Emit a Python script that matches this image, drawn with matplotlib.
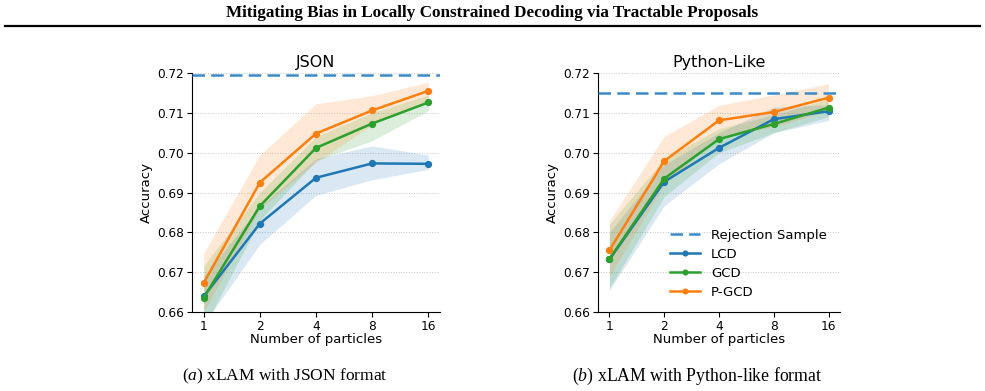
import matplotlib
matplotlib.use("Agg")
import matplotlib.pyplot as plt
from matplotlib.lines import Line2D

plt.rcParams['font.family'] = ['DejaVu Sans']
plt.rcParams['mathtext.fontset'] = 'custom'
plt.rcParams['mathtext.rm'] = 'Liberation Serif'
plt.rcParams['mathtext.it'] = 'Liberation Serif:italic'

particles = [1, 2, 4, 8, 16]
methods = ["LCD", "GCD", "P-GCD"]
colors = {"LCD": "#1f77b4", "GCD": "#2ca02c", "P-GCD": "#ff7f0e"}

# JSON panel
json_mean = {
    "LCD":   [0.6639, 0.6822, 0.6937, 0.6973, 0.6972],
    "GCD":   [0.6636, 0.6866, 0.7012, 0.7073, 0.7126],
    "P-GCD": [0.6673, 0.6925, 0.7048, 0.7106, 0.7155],
}
json_low = {
    "LCD":   [0.6570, 0.6770, 0.6893, 0.6932, 0.6958],
    "GCD":   [0.6560, 0.6830, 0.6980, 0.7030, 0.7105],
    "P-GCD": [0.6600, 0.6860, 0.6975, 0.7070, 0.7130],
}
json_high = {
    "LCD":   [0.6690, 0.6865, 0.6985, 0.7017, 0.6994],
    "GCD":   [0.6716, 0.6900, 0.7040, 0.7100, 0.7145],
    "P-GCD": [0.6748, 0.6994, 0.7123, 0.7143, 0.7177],
}
json_reject = 0.7195

# Python-like panel
py_mean = {
    "LCD":   [0.6732, 0.6927, 0.7012, 0.7084, 0.7104],
    "GCD":   [0.6733, 0.6935, 0.7034, 0.7072, 0.7113],
    "P-GCD": [0.6755, 0.6979, 0.7081, 0.7102, 0.7138],
}
py_low = {
    "LCD":   [0.6655, 0.6867, 0.6972, 0.7050, 0.7081],
    "GCD":   [0.6660, 0.6890, 0.7000, 0.7050, 0.7090],
    "P-GCD": [0.6690, 0.6920, 0.7040, 0.7065, 0.7105],
}
py_high = {
    "LCD":   [0.6800, 0.6970, 0.7050, 0.7115, 0.7120],
    "GCD":   [0.6820, 0.6985, 0.7060, 0.7095, 0.7135],
    "P-GCD": [0.6829, 0.7041, 0.7119, 0.7145, 0.7173],
}
py_reject = 0.7149

yticks = [0.66, 0.67, 0.68, 0.69, 0.70, 0.71, 0.72]
ytick_labels = ["0.66", "0.67", "0.68", "0.69", "0.70", "0.71", "0.72"]

W, H = 985, 391
fig = plt.figure(figsize=(W / 100, H / 100), dpi=100)

def panel(rect, title, mean, low, high, reject, legend=False):
    ax = fig.add_axes(rect)
    ax.set_xscale('log', base=2)
    ax.axhline(reject, color="#3b8bc9", ls=(0, (5, 2.5)), lw=1.8, label="Rejection Sample", zorder=3)
    for m in methods:
        ax.fill_between(particles, low[m], high[m], color=colors[m], alpha=0.17, lw=0)
        ax.plot(particles, mean[m], color=colors[m], lw=1.8, marker='o', ms=4.2, label=m, zorder=4)
    ax.set_xlim(0.865, 18.5)
    ax.set_ylim(0.66, 0.72)
    ax.set_xticks(particles, [str(p) for p in particles])
    ax.minorticks_off()
    ax.set_yticks(yticks, ytick_labels)
    ax.tick_params(labelsize=8.7, length=3.5, width=0.8, pad=2)
    ax.grid(axis='y', ls=':', color='#c8c8c8', lw=0.7)
    ax.set_axisbelow(True)
    for s in ['top', 'right']:
        ax.spines[s].set_visible(False)
    ax.set_title(title, fontsize=11.5, pad=4)
    ax.set_xlabel("Number of particles", fontsize=9.5, labelpad=0.5)
    ax.set_ylabel("Accuracy", fontsize=9.5, labelpad=3)
    if legend:
        ax.legend(loc='lower right', frameon=False, fontsize=9.5, handlelength=2.3,
                  borderaxespad=0.6, labelspacing=0.45, markerscale=0.8)
    return ax

panel([192 / W, 1 - 312 / H, 248 / W, 239 / H], "JSON", json_mean, json_low, json_high, json_reject)
panel([598 / W, 1 - 312 / H, 242 / W, 239 / H], "Python-Like", py_mean, py_low, py_high, py_reject, legend=True)

fig.text(0.5, 1 - 13 / H, "Mitigating Bias in Locally Constrained Decoding via Tractable Proposals",
         ha='center', va='center', family='Liberation Serif', weight='bold', fontsize=12.3)
fig.add_artist(Line2D([5 / W, 980 / W], [1 - 26 / H] * 2, color='black', lw=1.6))

fig.text(285 / W, 1 - 376 / H, r"$\mathit{(a)}$ xLAM with JSON format", ha='center', va='center',
         family='Liberation Serif', fontsize=12.5)
fig.text(697 / W, 1 - 376 / H, r"$\mathit{(b)}$ xLAM with Python-like format", ha='center', va='center',
         family='Liberation Serif', fontsize=12.8)

fig.savefig("out.png", dpi=100)
